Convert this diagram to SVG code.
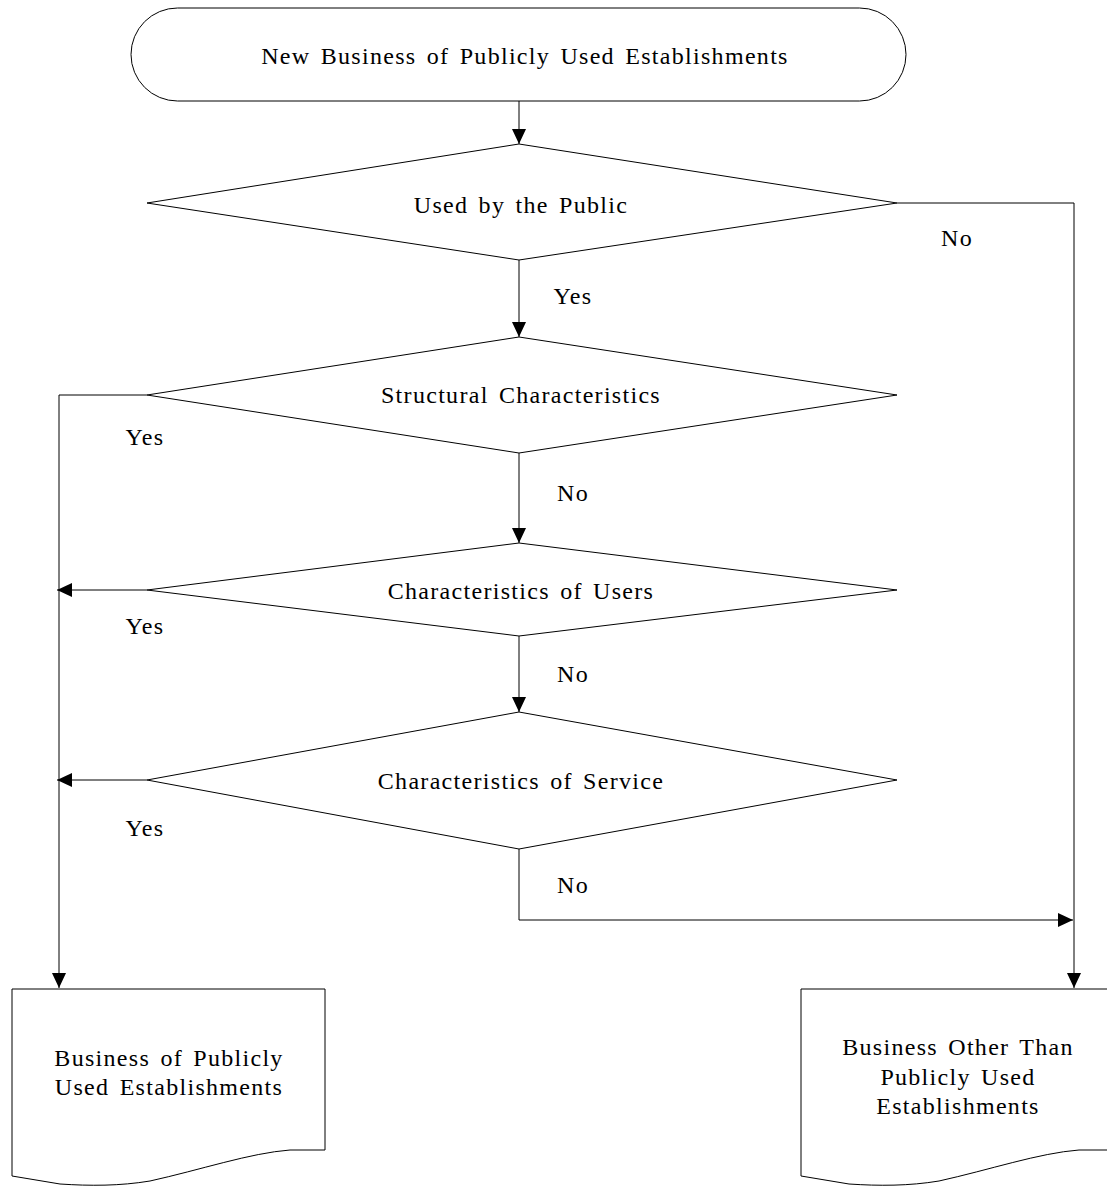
<svg xmlns="http://www.w3.org/2000/svg" width="1107" height="1186" viewBox="0 0 1107 1186">
<defs>
<style>
.shape{fill:#fff;stroke:#000;stroke-width:1}
.conn{fill:none;stroke:#000;stroke-width:1}
.t{font-family:"Liberation Serif","Times New Roman",serif;font-size:24px;fill:#000;letter-spacing:1.3px;word-spacing:3px;text-anchor:middle}
</style>
<marker id="arr" viewBox="0 0 15 14" refX="15" refY="7" markerWidth="15" markerHeight="14" markerUnits="userSpaceOnUse" orient="auto">
<path d="M0,0 L15,7 L0,14 Z" fill="#000"/>
</marker>
</defs>
<rect width="1107" height="1186" fill="#fff"/>
<g id="connectors">
<line class="conn" x1="519" y1="101" x2="519" y2="144" marker-end="url(#arr)"/>
<polyline class="conn" points="897,203 1074,203 1074,988" marker-end="url(#arr)"/>
<line class="conn" x1="519" y1="260" x2="519" y2="337" marker-end="url(#arr)"/>
<polyline class="conn" points="147,395 59,395 59,988" marker-end="url(#arr)"/>
<line class="conn" x1="519" y1="453" x2="519" y2="543" marker-end="url(#arr)"/>
<line class="conn" x1="147" y1="590" x2="57" y2="590" marker-end="url(#arr)"/>
<line class="conn" x1="519" y1="636" x2="519" y2="712" marker-end="url(#arr)"/>
<line class="conn" x1="147" y1="780" x2="57" y2="780" marker-end="url(#arr)"/>
<polyline class="conn" points="519,849 519,920 1073,920" marker-end="url(#arr)"/>
<text class="t" x="957" y="246">No</text>
<text class="t" x="573" y="304">Yes</text>
<text class="t" x="145" y="445">Yes</text>
<text class="t" x="573" y="501">No</text>
<text class="t" x="145" y="634">Yes</text>
<text class="t" x="573" y="682">No</text>
<text class="t" x="145" y="836">Yes</text>
<text class="t" x="573" y="893">No</text>
</g>
<g id="start">
<rect class="shape" x="131" y="8" width="775" height="93" rx="46.5" ry="46.5"/>
<text class="t" x="525" y="64">New Business of Publicly Used Establishments</text>
</g>
<g id="d1">
<polygon class="shape" points="519,144 897,203 519,260 147,203"/>
<text class="t" x="521" y="213">Used by the Public</text>
</g>
<g id="d2">
<polygon class="shape" points="519,337 897,395 519,453 147,395"/>
<text class="t" x="521" y="403">Structural Characteristics</text>
</g>
<g id="d3">
<polygon class="shape" points="519,543 897,590 519,636 147,590"/>
<text class="t" x="521" y="599">Characteristics of Users</text>
</g>
<g id="d4">
<polygon class="shape" points="519,712 897,780 519,849 147,780"/>
<text class="t" x="521" y="789">Characteristics of Service</text>
</g>
<g id="doc1">
<path class="shape" d="M12,1176 V989 H325 V1150 L290,1150 C250,1153 200,1170 150,1181 C120,1186 90,1186 60,1184 Z"/>
<text class="t" x="169" y="1066">Business of Publicly</text>
<text class="t" x="169" y="1095">Used Establishments</text>
</g>
<g id="doc2">
<path class="shape" d="M801,1176 V989 H1114 V1150 L1079,1150 C1039,1153 989,1170 939,1181 C909,1186 879,1186 849,1184 Z"/>
<text class="t" x="958" y="1055">Business Other Than</text>
<text class="t" x="958" y="1085">Publicly Used</text>
<text class="t" x="958" y="1114">Establishments</text>
</g>
</svg>
